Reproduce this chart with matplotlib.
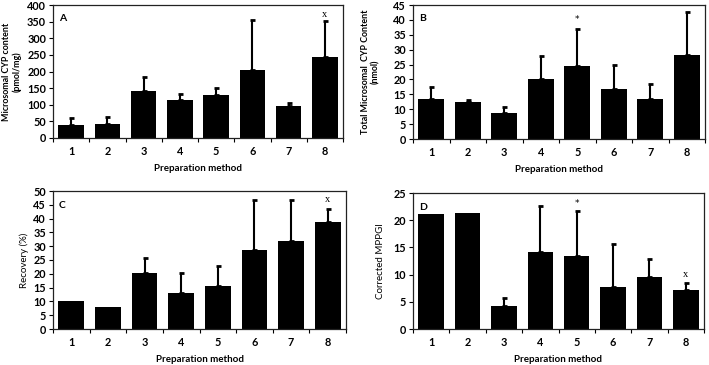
import matplotlib
matplotlib.use("Agg")
import matplotlib.pyplot as plt
import numpy as np

methods = ["1", "2", "3", "4", "5", "6", "7", "8"]

cyp_content = [39, 41, 140, 114, 128, 204, 97, 245]
cyp_content_sd = [20, 22, 43, 19, 21, 150, 9, 106]

total_cyp = [13.5, 12.3, 8.6, 20.1, 24.4, 16.7, 13.4, 28.3]
total_cyp_sd = [3.8, 0.8, 2.3, 7.9, 12.7, 8.2, 5.2, 14.2]

recovery = [10.0, 8.0, 20.2, 13.0, 15.4, 28.6, 32.0, 38.8]
recovery_sd = [0, 0, 5.4, 7.3, 7.3, 18.0, 14.6, 4.7]

mppgi = [21.1, 21.4, 4.2, 14.1, 13.4, 7.8, 9.5, 7.15]
mppgi_sd = [0, 0, 1.5, 8.5, 8.3, 7.8, 3.3, 1.25]

W, H = 709, 365
fig = plt.figure(figsize=(W / 100, H / 100), dpi=100)
plt.rcParams['font.family'] = ['Lato', 'DejaVu Sans']


def px_axes(l, t, r, b):
    return fig.add_axes([l / W, 1 - b / H, (r - l) / W, (b - t) / H])


def panel(ax, vals, sd, ymax, ystep, letter, ylabel, ylab_bold, ylab_size, marks):
    x = np.arange(1, len(vals) + 1)
    ax.bar(x, vals, width=0.7, color="black", zorder=2)
    sd = np.array(sd, dtype=float)
    has = sd > 0
    ax.errorbar(x[has], np.array(vals)[has],
                yerr=[np.zeros(has.sum()), sd[has]],
                fmt="none", ecolor="black", elinewidth=1.5,
                capsize=1.8, capthick=2, zorder=3)
    ax.set_xlim(0.5, len(vals) + 0.5)
    ax.set_ylim(0, ymax)
    ax.set_yticks(np.arange(0, ymax + ystep / 2, ystep))
    ax.set_xticks(x)
    ax.set_xticklabels(methods)
    ax.set_xticks(np.arange(0.5, len(vals) + 1), minor=True)
    ax.tick_params(axis="x", which="major", length=0, pad=6)
    ax.tick_params(axis="x", which="minor", length=3, width=0.8,
                   direction="out")
    ax.tick_params(axis="y", length=3, width=0.8, direction="out", pad=2)
    for lab in ax.get_xticklabels() + ax.get_yticklabels():
        lab.set_fontsize(7.8)
        lab.set_fontweight("bold")
    for s in ax.spines.values():
        s.set_linewidth(0.9)
        s.set_color("#222222")
    ax.set_xlabel("Preparation method", fontsize=7, fontweight="bold",
                  labelpad=5)
    ax.set_ylabel(ylabel, fontsize=ylab_size,
                  fontweight="bold" if ylab_bold else "normal",
                  linespacing=1.15)
    ax.text(0.02, 0.93, letter, transform=ax.transAxes, fontsize=7.5,
            fontweight="bold", va="top", ha="left")
    for idx, sym, yv in marks:
        fam = ["Liberation Serif"] if sym == "x" else ["DejaVu Sans"]
        ax.text(x[idx], yv, sym, ha="center", va="center",
                fontsize=7.5 if sym == "x" else 6.5, family=fam)


axA = px_axes(53, 5, 343, 138)
panel(axA, cyp_content, cyp_content_sd, 400, 50, "A",
      "Microsomal CYP content\n(pmol/mg)", True, 6.4, [(7, "x", 370)])
axA.yaxis.set_label_coords(-0.107, 0.5)

axB = px_axes(413, 5, 705, 139)
panel(axB, total_cyp, total_cyp_sd, 45, 5, "B",
      "Total Microsomal  CYP Content\n(nmol)", True, 6.4, [(4, "*", 40)])
axB.yaxis.set_label_coords(-0.113, 0.5)

axC = px_axes(53, 191, 346, 329)
panel(axC, recovery, recovery_sd, 50, 5, "C",
      "Recovery (%)", False, 7, [(7, "x", 47)])
axC.yaxis.set_label_coords(-0.082, 0.5)

axD = px_axes(413, 193, 704, 329)
panel(axD, mppgi, mppgi_sd, 25, 5, "D",
      "Corrected MPPGI", False, 7, [(4, "*", 23), (7, "x", 10.1)])
axD.yaxis.set_label_coords(-0.096, 0.5)

fig.savefig("out.png", dpi=100)
